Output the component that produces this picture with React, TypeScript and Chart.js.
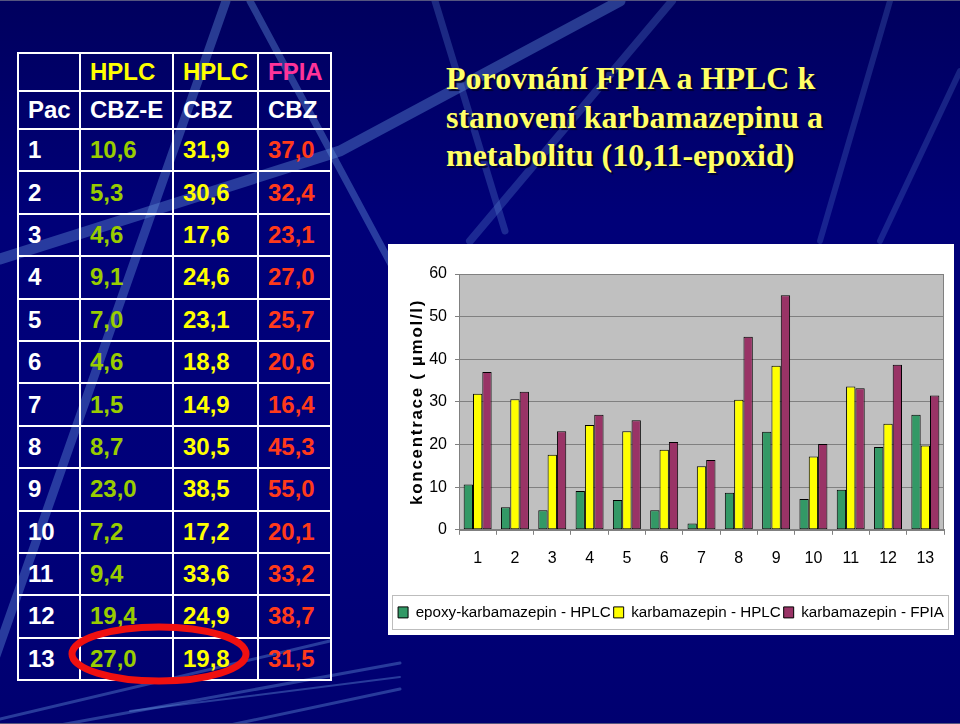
import React, { useEffect, useRef } from 'react';
import { Chart, registerables, LinearScale } from 'chart.js';

Chart.register(...registerables);

// Linear scale whose title is drawn with letter spacing (as in the slide)
class SpacedLinearScale extends LinearScale {
  static id = 'spacedLinear';
  drawTitle() {
    const ctx: any = (this as any).ctx;
    ctx.save();
    ctx.letterSpacing = '1.7px';
    // @ts-ignore
    super.drawTitle();
    ctx.restore();
  }
}
Chart.register(SpacedLinearScale as any);

// ---------------- data ----------------
const patients = ['1', '2', '3', '4', '5', '6', '7', '8', '9', '10', '11', '12', '13'];
const epoxyHPLC = [10.6, 5.3, 4.6, 9.1, 7.0, 4.6, 1.5, 8.7, 23.0, 7.2, 9.4, 19.4, 27.0];
const cbzHPLC = [31.9, 30.6, 17.6, 24.6, 23.1, 18.8, 14.9, 30.5, 38.5, 17.2, 33.6, 24.9, 19.8];
const cbzFPIA = [37.0, 32.4, 23.1, 27.0, 25.7, 20.6, 16.4, 45.3, 55.0, 20.1, 33.2, 38.7, 31.5];
const seriesLabels = ['epoxy-karbamazepin - HPLC', 'karbamazepin - HPLC', 'karbamazepin - FPIA'];
const yMin = 0;
const yMax = 60;
const yStep = 10;
const yAxisTitle = 'koncentrace ( µmol/l)';
const titleLines = ['Porovnání FPIA a HPLC k', 'stanovení karbamazepinu a', 'metabolitu (10,11-epoxid)'];
const headerMethod = ['', 'HPLC', 'HPLC', 'FPIA'];
const headerDrug = ['Pac', 'CBZ-E', 'CBZ', 'CBZ'];

// ---------------- styles ----------------
const SANS = 'Arial, "Liberation Sans", sans-serif';
const SERIF = '"Times New Roman", "Liberation Serif", serif';
const seriesColors = ['#339966', '#ffff00', '#993366'];
const headerMethodColors = ['#ffffff', '#ffff00', '#ffff00', '#ff3399'];
const columnColors = ['#ffffff', '#99cc00', '#ffff00', '#ff3a1a'];
const colWidths = [62, 93, 85, 73];
const LEGEND_FONT = 15.2;
const LEGEND_PAD = 3;

const fmt = (v: number) => v.toFixed(1).replace('.', ',');

const plotBackground = {
  id: 'plotBackground',
  beforeDraw(chart: any) {
    const { ctx, chartArea } = chart;
    ctx.save();
    ctx.fillStyle = '#c0c0c0';
    ctx.fillRect(chartArea.left, chartArea.top, chartArea.right - chartArea.left, chartArea.bottom - chartArea.top);
    ctx.restore();
  },
  afterDraw(chart: any) {
    const { ctx, chartArea, legend } = chart;
    ctx.save();
    ctx.strokeStyle = '#808080';
    ctx.lineWidth = 1;
    ctx.strokeRect(
      Math.round(chartArea.left) + 0.5,
      Math.round(chartArea.top) + 0.5,
      Math.round(chartArea.right - chartArea.left) - 1,
      Math.round(chartArea.bottom - chartArea.top)
    );
    if (legend) {
      const center = legend.top + LEGEND_PAD + LEGEND_FONT / 2;
      ctx.strokeStyle = '#bdbdbd';
      ctx.strokeRect(4.5, Math.round(center - 17.5) + 0.5, 556, 34);
    }
    ctx.restore();
  },
};

function BarChart() {
  const ref = useRef<HTMLCanvasElement>(null);
  useEffect(() => {
    if (!ref.current) return;
    const chart = new Chart(ref.current, {
      type: 'bar',
      data: {
        labels: patients,
        datasets: [epoxyHPLC, cbzHPLC, cbzFPIA].map((d, i) => ({
          label: seriesLabels[i],
          data: d,
          backgroundColor: seriesColors[i],
          borderColor: '#000000',
          borderWidth: 1,
          borderSkipped: false,
          categoryPercentage: 0.75,
          barPercentage: 1,
        })),
      },
      options: {
        responsive: false,
        animation: false,
        events: [],
        layout: { padding: { top: 30, right: 0, bottom: 5, left: 0 } },
        plugins: {
          legend: {
            position: 'bottom',
            labels: {
              boxWidth: 10,
              boxHeight: 11,
              padding: LEGEND_PAD,
              color: '#000000',
              font: { family: SANS, size: LEGEND_FONT },
            },
          },
          tooltip: { enabled: false },
        },
        scales: {
          x: {
            grid: { drawOnChartArea: false, drawTicks: true, tickLength: 5, color: '#808080', offset: true },
            border: { color: '#808080' },
            ticks: { color: '#000000', font: { family: SANS, size: 16 }, padding: 14 },
            afterFit: (s: any) => {
              s.height = 72;
            },
          },
          y: {
            type: 'spacedLinear' as any,
            min: yMin,
            max: yMax,
            ticks: { stepSize: yStep, color: '#000000', font: { family: SANS, size: 16 }, padding: 8 },
            grid: { color: '#808080', tickLength: 4 },
            border: { color: '#808080' },
            title: {
              display: true,
              text: yAxisTitle,
              color: '#000000',
              font: { family: SANS, size: 17, weight: 'bold' },
              padding: { top: 19, bottom: 0 },
            },
            afterFit: (s: any) => {
              s.width = 71;
            },
          },
          yRight: {
            type: 'linear',
            position: 'right',
            display: true,
            min: yMin,
            max: yMax,
            grid: { display: false, drawTicks: false },
            border: { display: false },
            ticks: { display: false },
            afterFit: (s: any) => {
              s.width = 10;
            },
          },
        },
      } as any,
      plugins: [plotBackground],
    });
    return () => chart.destroy();
  }, []);
  return <canvas ref={ref} width={566} height={391} style={{ display: 'block' }} />;
}

function Decorations() {
  const line = 'rgba(95,140,215,0.42)';
  return (
    <svg width={960} height={724} style={{ position: 'absolute', left: 0, top: 0 }}>
      <defs>
        <linearGradient id="hl" x1="0" x2="1" y1="0" y2="0">
          <stop offset="0" stopColor="rgba(150,190,60,0.15)" />
          <stop offset="1" stopColor="rgba(180,220,80,0.9)" />
        </linearGradient>
      </defs>
      <g stroke={line} fill="none" strokeLinecap="round">
        <line x1={226} y1={0} x2={-20} y2={700} strokeWidth={9} />
        <line x1={250} y1={0} x2={400} y2={280} strokeWidth={7} />
        <polyline points="0,258 340,150 620,0" strokeWidth={11} />
        <line x1={435} y1={0} x2={505} y2={230} strokeWidth={7} opacity={0.7} />
        <line x1={672} y1={0} x2={470} y2={240} strokeWidth={8} opacity={0.7} />
        <line x1={890} y1={0} x2={820} y2={240} strokeWidth={6} opacity={0.6} />
        <line x1={960} y1={70} x2={880} y2={240} strokeWidth={6} opacity={0.6} />
        <line x1={0} y1={718} x2={330} y2={640} strokeWidth={3} />
        <line x1={60} y1={724} x2={400} y2={662} strokeWidth={3} />
        <line x1={230} y1={724} x2={400} y2={688} strokeWidth={3} />
        <line x1={130} y1={710} x2={400} y2={676} strokeWidth={2} />
      </g>
      <line x1={0} y1={660} x2={395} y2={660} stroke="url(#hl)" strokeWidth={2} />
    </svg>
  );
}

function DataTable() {
  const rows: string[][] = patients.map((p, i) => [p, fmt(epoxyHPLC[i]), fmt(cbzHPLC[i]), fmt(cbzFPIA[i])]);
  const cell = (h: number): React.CSSProperties => ({
    border: '2px solid #ffffff',
    padding: '0 0 0 9px',
    height: h,
    verticalAlign: 'middle',
    textAlign: 'left',
    fontFamily: SANS,
    fontWeight: 'bold',
    fontSize: 24,
    lineHeight: '24px',
    boxSizing: 'border-box',
  });
  return (
    <table
      style={{
        position: 'absolute',
        left: 17,
        top: 51,
        borderCollapse: 'collapse',
        tableLayout: 'fixed',
        width: 315,
      }}
    >
      <colgroup>
        {colWidths.map((w, i) => (
          <col key={i} style={{ width: w }} />
        ))}
      </colgroup>
      <tbody>
        <tr>
          {headerMethod.map((t, i) => (
            <td key={i} style={{ ...cell(38), color: headerMethodColors[i] }}>
              {t}
            </td>
          ))}
        </tr>
        <tr>
          {headerDrug.map((t, i) => (
            <td key={i} style={{ ...cell(38), color: '#ffffff' }}>
              {t}
            </td>
          ))}
        </tr>
        {rows.map((r, ri) => (
          <tr key={ri}>
            {r.map((t, ci) => (
              <td key={ci} style={{ ...cell(42.4), color: columnColors[ci] }}>
                {t}
              </td>
            ))}
          </tr>
        ))}
      </tbody>
    </table>
  );
}

export default function App() {
  return (
    <div
      style={{
        position: 'fixed',
        left: 0,
        top: 0,
        width: 960,
        height: 724,
        overflow: 'hidden',
        background: 'linear-gradient(180deg, #00005e 0%, #000078 30%, #00007a 70%, #000070 100%)',
        borderTop: '1px solid #55557f',
        borderBottom: '1px solid #55557f',
        boxSizing: 'border-box',
      }}
    >
      <Decorations />
      <DataTable />
      <svg width={960} height={724} style={{ position: 'absolute', left: 0, top: 0, pointerEvents: 'none' }}>
        <ellipse cx={159} cy={653} rx={87} ry={27} fill="none" stroke="#f01010" strokeWidth={7} />
      </svg>
      <div
        style={{
          position: 'absolute',
          left: 446,
          top: 58,
          fontFamily: SERIF,
          fontWeight: 'bold',
          fontSize: 32,
          lineHeight: '38.5px',
          color: '#ffff66',
          textShadow: '2px 2px 1px #000030',
          whiteSpace: 'nowrap',
        }}
      >
        {titleLines.map((l, i) => (
          <div key={i}>{l}</div>
        ))}
      </div>
      <div
        style={{
          position: 'absolute',
          left: 388,
          top: 243,
          width: 566,
          height: 391,
          background: '#ffffff',
        }}
      >
        <BarChart />
      </div>
    </div>
  );
}
